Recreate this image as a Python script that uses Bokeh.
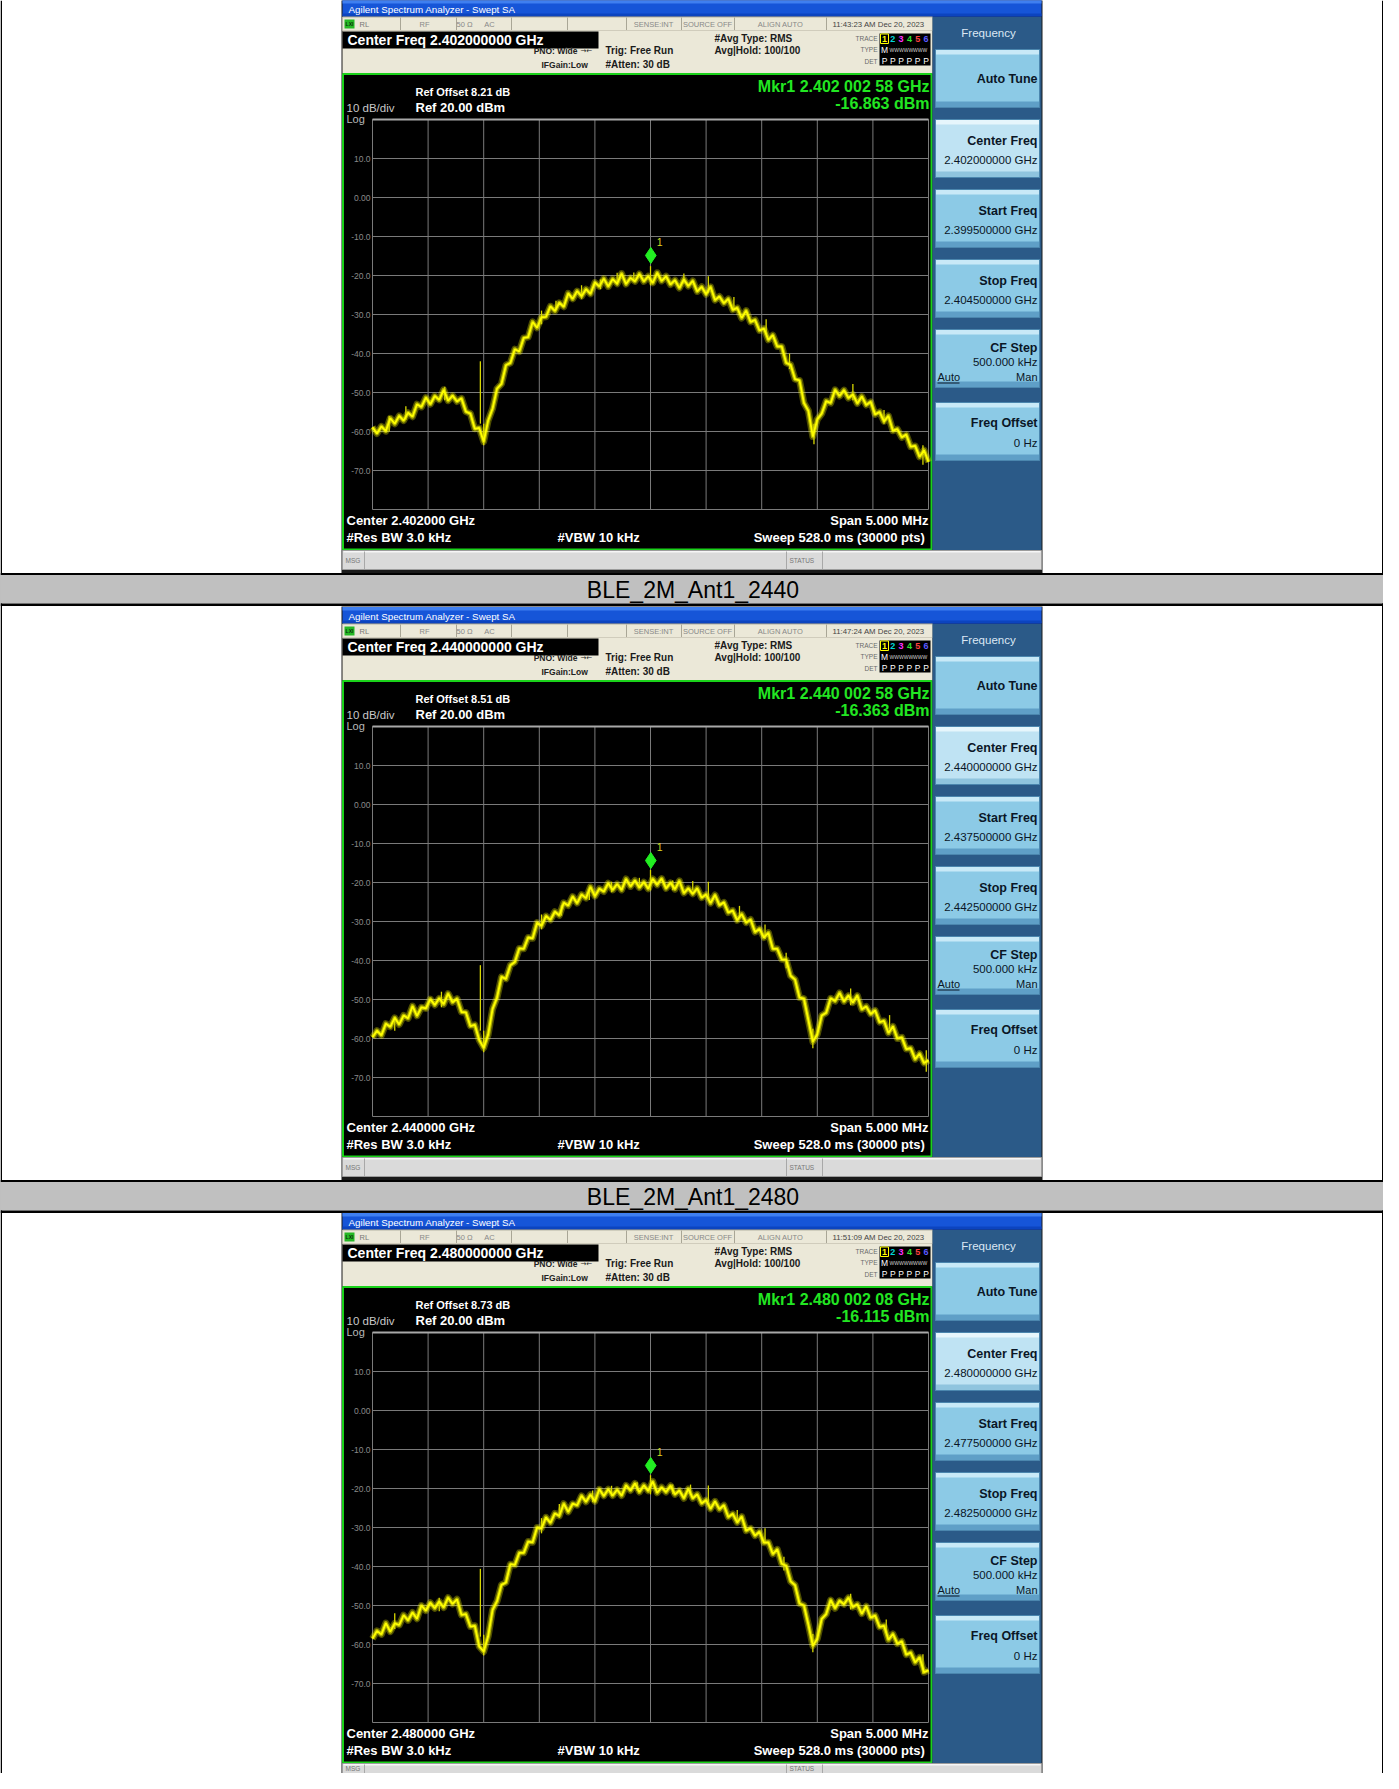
import numpy as np
from bokeh.plotting import figure
from bokeh.models import Range1d
from bokeh.core.properties import value
from bokeh.embed import file_html
from bokeh.resources import INLINE

# ---------------- data ----------------
center_freq_labels = ["2.402000000 GHz", "2.440000000 GHz", "2.480000000 GHz"]
start_freq_labels = ["2.399500000 GHz", "2.437500000 GHz", "2.477500000 GHz"]
stop_freq_labels = ["2.404500000 GHz", "2.442500000 GHz", "2.482500000 GHz"]
center_short_labels = ["2.402000 GHz", "2.440000 GHz", "2.480000 GHz"]
ref_offset_db = ["8.21", "8.51", "8.73"]
marker_freq_labels = ["2.402 002 58 GHz", "2.440 002 58 GHz", "2.480 002 08 GHz"]
marker_offset_mhz = [0.00258, 0.00258, 0.00208]
marker_dbm = [-16.863, -16.363, -16.115]
timestamps = ["11:43:23 AM Dec 20, 2023", "11:47:24 AM Dec 20, 2023", "11:51:09 AM Dec 20, 2023"]
row_headers = ["BLE_2M_Ant1_2440", "BLE_2M_Ant1_2480"]

span_mhz = 5.0
ref_level = 20.0
bottom_level = -80.0
freq_grid_mhz = [-2.5, -2.0, -1.5, -1.0, -0.5, 0.0, 0.5, 1.0, 1.5, 2.0, 2.5]
level_grid_db = [20, 10, 0, -10, -20, -30, -40, -50, -60, -70, -80]
y_tick_values = [10, 0, -10, -20, -30, -40, -50, -60, -70]
y_tick_labels = ["10.0", "0.00", "-10.0", "-20.0", "-30.0", "-40.0", "-50.0", "-60.0", "-70.0"]

trace_2402 = [
    -58.9, -60.5, -58.7, -59.9, -56.6, -58.0, -56.0, -57.2, -55.2, -56.2,
    -53.0, -53.7, -51.3, -53.0, -50.9, -51.9, -49.3, -52.1, -50.8, -52.3,
    -51.5, -54.9, -55.4, -59.3, -59.1, -62.6, -57.2, -54.1, -49.0, -47.8,
    -43.0, -42.4, -38.9, -39.5, -36.0, -35.8, -31.9, -33.4, -30.7, -30.6,
    -27.9, -29.1, -27.0, -28.0, -24.6, -26.0, -24.0, -25.3, -23.5, -24.7,
    -21.8, -22.8, -20.8, -22.8, -20.9, -22.1, -19.5, -22.2, -20.6, -21.5,
    -19.6, -21.5, -20.2, -21.9, -19.3, -21.4, -20.2, -22.3, -21.2, -23.2,
    -21.0, -22.7, -21.4, -24.1, -22.9, -24.8, -22.9, -26.3, -25.4, -27.1,
    -26.0, -28.8, -28.3, -30.9, -29.0, -31.9, -31.4, -34.1, -33.6, -36.5,
    -35.3, -38.2, -38.2, -42.4, -42.9, -46.6, -46.9, -52.7, -54.7, -61.3,
    -56.9, -55.4, -52.2, -52.7, -49.3, -50.9, -49.4, -51.4, -50.5, -52.8,
    -51.0, -53.2, -52.4, -55.6, -55.0, -57.4, -56.0, -59.8, -59.4, -61.5,
    -60.8, -63.9, -63.7, -66.5, -64.8, -67.8,
]
trace_2440 = [
    -59.7, -58.0, -59.2, -56.2, -57.0, -54.7, -56.4, -54.1, -54.8, -51.7,
    -54.2, -52.0, -52.3, -49.9, -51.4, -49.7, -51.2, -48.5, -50.7, -49.8,
    -53.2, -53.3, -56.8, -56.5, -60.4, -62.4, -59.0, -52.4, -49.5, -44.2,
    -44.7, -41.2, -40.4, -36.9, -37.0, -34.1, -34.3, -30.3, -31.1, -28.6,
    -29.6, -27.5, -28.4, -25.2, -25.9, -23.6, -25.3, -23.1, -24.0, -21.1,
    -23.5, -21.6, -22.3, -20.2, -21.9, -20.4, -21.9, -19.1, -21.0, -19.5,
    -21.3, -19.9, -21.6, -19.1, -20.6, -19.0, -21.5, -20.1, -21.7, -19.6,
    -22.7, -21.5, -22.9, -21.5, -23.9, -23.1, -25.3, -23.2, -25.8, -25.1,
    -27.7, -27.2, -29.7, -28.1, -30.3, -29.5, -32.7, -31.9, -34.1, -32.9,
    -37.0, -37.0, -39.7, -39.8, -43.9, -44.9, -49.5, -49.8, -55.3, -60.8,
    -58.9, -54.1, -53.4, -49.7, -50.4, -48.3, -50.5, -49.0, -50.8, -49.0,
    -52.5, -51.8, -53.7, -52.8, -55.8, -55.5, -58.6, -56.9, -60.0, -59.7,
    -62.7, -62.5, -65.3, -63.9, -66.3, -65.6,
]
trace_2480 = [
    -58.5, -56.5, -57.4, -54.5, -56.7, -54.6, -55.0, -52.5, -53.8, -51.8,
    -53.4, -50.0, -51.3, -49.3, -50.7, -49.0, -50.5, -48.0, -49.6, -48.4,
    -52.4, -52.2, -55.4, -55.2, -60.5, -61.8, -57.9, -51.1, -48.9, -44.7,
    -44.1, -39.4, -39.6, -36.5, -36.5, -33.6, -33.8, -30.0, -30.2, -27.4,
    -28.8, -26.4, -27.0, -23.9, -26.0, -23.9, -24.3, -21.9, -23.4, -21.6,
    -23.3, -20.2, -21.9, -20.2, -21.8, -20.3, -21.8, -19.2, -20.5, -18.7,
    -20.9, -19.2, -20.6, -18.2, -21.1, -19.7, -20.9, -19.3, -21.5, -20.5,
    -22.5, -20.1, -22.5, -21.5, -23.8, -23.0, -25.2, -23.3, -25.3, -24.3,
    -27.3, -26.5, -28.7, -27.2, -30.8, -30.2, -32.1, -31.1, -33.9, -33.8,
    -36.8, -35.6, -39.3, -39.8, -43.8, -44.8, -49.5, -50.0, -54.9, -60.3,
    -58.5, -53.4, -52.2, -48.6, -50.7, -48.8, -49.7, -48.0, -50.4, -49.7,
    -52.1, -50.2, -53.1, -52.6, -55.5, -55.2, -58.8, -57.3, -59.8, -59.2,
    -62.6, -62.1, -64.6, -63.3, -67.1, -66.6,
]

# narrow spikes in each trace: offset (MHz), top (dBm), foot (dBm)
spike_2402_mhz = [-1.53, 0.0, -0.98, -0.62, -0.30, 0.52, 1.04, 1.82, 1.47, -1.50, 2.45, -2.20, -1.85,
                  -0.85, -0.45, -0.15, 0.30, 0.75, 1.25, 2.10, -2.35]
spike_2402_top = [-42.0, -17.6, -29.0, -22.5, -19.3, -20.2, -31.2, -47.8, -58.0, -58.0, -63.5, -53.5, -48.5,
                  -26.5, -21.0, -19.2, -19.5, -25.5, -40.0, -54.5, -56.0]
spike_2402_bot = [-58.0, -22.5, -32.5, -26.0, -22.5, -24.5, -35.0, -52.0, -63.3, -63.5, -68.5, -57.0, -52.0,
                  -29.0, -23.5, -21.5, -22.0, -28.5, -44.0, -58.0, -60.0]
spike_2440_mhz = [-1.53, 0.0, -0.98, -0.35, 0.52, 1.03, 1.80, 1.46, -1.50, 2.48, -1.88, 0.20,
                  -0.80, -0.55, -0.10, 0.38, 0.80, 1.22, 2.15, -2.30]
spike_2440_top = [-41.2, -16.8, -28.2, -19.8, -19.8, -30.8, -47.2, -57.5, -58.0, -63.0, -48.0, -19.5,
                  -25.8, -21.5, -18.8, -19.6, -26.0, -38.0, -54.0, -54.5]
spike_2440_bot = [-58.0, -22.0, -32.0, -22.5, -24.0, -34.5, -51.5, -62.5, -63.5, -68.5, -52.0, -22.0,
                  -28.5, -24.5, -21.0, -22.0, -29.0, -42.0, -57.5, -58.0]
spike_2480_mhz = [-1.53, 0.0, -0.98, -0.35, 0.52, 1.03, 1.80, 1.46, -1.50, 2.45, -2.30, 0.20,
                  -0.82, -0.52, -0.12, 0.36, 0.78, 1.20, 2.12, -1.90]
spike_2480_top = [-40.6, -16.6, -27.6, -19.3, -19.2, -30.2, -47.0, -57.3, -57.5, -62.5, -52.0, -19.0,
                  -24.0, -20.5, -18.4, -19.0, -25.5, -37.5, -53.6, -48.0]
spike_2480_bot = [-58.0, -21.5, -31.5, -22.0, -23.5, -34.0, -51.0, -62.0, -62.8, -67.5, -56.0, -21.5,
                  -27.5, -23.5, -20.6, -21.5, -28.5, -41.0, -57.0, -51.5]

traces = [trace_2402, trace_2440, trace_2480]
spikes = [(spike_2402_mhz, spike_2402_top, spike_2402_bot),
          (spike_2440_mhz, spike_2440_top, spike_2440_bot),
          (spike_2480_mhz, spike_2480_top, spike_2480_bot)]

# ---------------- page canvas (pixel coordinates, y downwards) ----------------
W, H = 1383, 1773
FONT = "Liberation Sans"
p = figure(width=W, height=H, x_range=Range1d(8, 8 + W), y_range=Range1d(8 + H, 8),
           output_backend="svg", toolbar_location=None, min_border=0,
           x_axis_location=None, y_axis_location=None,
           background_fill_color="#ffffff", border_fill_color="#ffffff",
           outline_line_color=None)
p.xgrid.visible = False
p.ygrid.visible = False


def box(l, r, t, b, fill, line=None, lw=1.0):
    p.quad(left=[l], right=[r], top=[t], bottom=[b], fill_color=fill,
           line_color=line, line_width=lw)


def seg(x0, y0, x1, y1, color, lw=1.0):
    p.segment(x0=[x0], y0=[y0], x1=[x1], y1=[y1], line_color=color, line_width=lw)


def txt(x, y, s, size, color="#ffffff", bold=False, align="left", font=FONT):
    p.text(x=[x], y=[y], text=[s], text_font=value(font), text_font_size=f"{size}px",
           text_font_style="bold" if bold else "normal", text_color=color,
           text_align=align, text_baseline="middle")


GREEN_TXT = "#22e622"
GREEN_BORDER = "#1ad21a"
YELLOW = "#ffff00"
GRID = "#7a7a7a"
BEIGE = "#ebe8d8"
KEY_TXT = "#0a1626"

SHOT_TOPS = [7, 614, 1220]
PAGE_BOTTOM = 8 + H

# table frame (outer borders sit at the page edge)
box(8, 9.5, 8, PAGE_BOTTOM, "#000000")
box(1389.5, 1391, 8, PAGE_BOTTOM, "#000000")

for k, S in enumerate(SHOT_TOPS):
    # ---- screenshot frame
    box(349, 1050, S, S + 573.5, "#1a1a1a")
    # title bar
    box(350, 1049, S + 0.5, S + 17, "#1655d8")
    box(350, 1049, S + 0.5, S + 4, "#3f7ff0")
    box(350, 1049, S + 14, S + 17, "#0c44bf")
    txt(356, S + 9.5, "Agilent Spectrum Analyzer - Swept SA", 9.8, "#ffffff")

    # status row
    box(350, 940, S + 17.5, S + 31, BEIGE, line="#b4b1a1")
    for sx in [408, 464, 519, 575, 634, 689, 742, 834]:
        seg(sx, S + 18, sx, S + 30.5, "#a9a696")
    box(352, 362, S + 20, S + 29, "#25b825")
    txt(357, S + 24.5, "LXI", 5, "#0a300a", bold=True, align="center")
    txt(367, S + 24.5, "RL", 7.5, "#777777")
    txt(432, S + 24.5, "RF", 7.5, "#888888", align="center")
    txt(472, S + 24.5, "50 Ω", 7.5, "#888888", align="center")
    txt(497, S + 24.5, "AC", 7.5, "#888888", align="center")
    txt(661, S + 24.5, "SENSE:INT", 7.5, "#888888", align="center")
    txt(715, S + 24.5, "SOURCE OFF", 7.5, "#888888", align="center")
    txt(788, S + 24.5, "ALIGN AUTO", 7.5, "#888888", align="center")
    txt(886, S + 24.5, timestamps[k], 7.8, "#444444", align="center")

    # info area
    box(350, 940, S + 31, S + 74, BEIGE)
    box(350, 606, S + 32, S + 49, "#000000")
    txt(355, S + 40.5, "Center Freq " + center_freq_labels[k], 14, "#ffffff", bold=True)
    txt(585, S + 51, "PNO: Wide", 8.5, "#222222", bold=True, align="right")
    txt(588, S + 51, "→←", 7, "#222222", font="DejaVu Sans")
    txt(549, S + 65, "IFGain:Low", 8.5, "#222222", bold=True)
    txt(613, S + 51, "Trig: Free Run", 10, "#1a1a1a", bold=True)
    txt(613, S + 65, "#Atten: 30 dB", 10, "#1a1a1a", bold=True)
    txt(722, S + 39, "#Avg Type: RMS", 10, "#1a1a1a", bold=True)
    txt(722, S + 51, "Avg|Hold: 100/100", 10, "#1a1a1a", bold=True)
    txt(885, S + 38.5, "TRACE", 6.5, "#6a6a6a", align="right")
    txt(885, S + 50, "TYPE", 6.5, "#6a6a6a", align="right")
    txt(885, S + 61.5, "DET", 6.5, "#6a6a6a", align="right")
    box(887, 938, S + 34, S + 66, "#000000")
    box(888, 896, S + 34.5, S + 44, None, line=YELLOW, lw=1)
    tcol = ["#ffff00", "#00d8d8", "#ff30ff", "#30e030", "#ff4040", "#5a5aff"]
    for j in range(6):
        txt(892 + 8.3 * j, S + 39.5, str(j + 1), 9, tcol[j], bold=True, align="center")
        txt(892 + 8.3 * j, S + 61.5, "P", 8.5, "#ffffff", align="center")
    txt(892, S + 50, "M", 8.5, "#ffffff", align="center")
    txt(897, S + 50, "WWWWWWWW", 5, "#d0d0d0")

    # ---- graph area
    box(350.5, 939, S + 74.5, S + 550, "#000000", line=GREEN_BORDER, lw=2)
    txt(937, S + 87, "Mkr1 " + marker_freq_labels[k], 16, GREEN_TXT, bold=True, align="right")
    txt(937, S + 104, f"{marker_dbm[k]:.3f} dBm", 16, GREEN_TXT, bold=True, align="right")
    txt(423, S + 92.5, f"Ref Offset {ref_offset_db[k]} dB", 11, "#ffffff", bold=True)
    txt(354, S + 108, "10 dB/div", 11.5, "#c8c8c8")
    txt(423, S + 108, f"Ref {ref_level:.2f} dBm", 13, "#ffffff", bold=True)
    txt(354, S + 119, "Log", 11, "#b8b8b8")
    txt(354, S + 521, "Center " + center_short_labels[k], 13, "#ffffff", bold=True)
    txt(936, S + 521, f"Span {span_mhz:.3f} MHz", 13, "#ffffff", bold=True, align="right")
    txt(354, S + 538, "#Res BW 3.0 kHz", 13, "#ffffff", bold=True)
    txt(565, S + 538, "#VBW 10 kHz", 13, "#ffffff", bold=True)
    txt(936, S + 538, "Sweep  528.0 ms (30000 pts)", 13, "#ffffff", bold=True, align="right")

    sub = p.subplot(x_source=Range1d(-span_mhz / 2, span_mhz / 2),
                    y_source=Range1d(bottom_level, ref_level),
                    x_target=Range1d(380, 936), y_target=Range1d(S + 510, S + 120))
    sub.segment(x0=freq_grid_mhz, y0=bottom_level, x1=freq_grid_mhz, y1=ref_level,
                line_color=GRID, line_width=1)
    sub.segment(x0=-span_mhz / 2, y0=level_grid_db, x1=span_mhz / 2, y1=level_grid_db,
                line_color=GRID, line_width=1)
    sub.segment(x0=[-span_mhz / 2], y0=[ref_level], x1=[span_mhz / 2], y1=[ref_level],
                line_color="#a8a8a8", line_width=2)
    sub.text(x=[-span_mhz / 2] * len(y_tick_values), y=y_tick_values, text=y_tick_labels,
             x_offset=-2, text_align="right", text_baseline="middle",
             text_font=value(FONT), text_font_size="8.5px", text_color="#8a8a8a")

    tr = traces[k]
    f_mhz = np.linspace(-span_mhz / 2, span_mhz / 2, len(tr))
    sm, st, sb = spikes[k]
    sub.line(x=f_mhz, y=tr, line_color=YELLOW, line_width=7, line_alpha=0.30, line_join="round")
    sub.line(x=f_mhz, y=tr, line_color=YELLOW, line_width=4, line_alpha=0.55, line_join="round")
    sub.segment(x0=sm, y0=sb, x1=sm, y1=st, line_color="#d8d800", line_width=1.3)
    sub.line(x=f_mhz, y=tr, line_color=YELLOW, line_width=1.8)

    sub.scatter(x=[marker_offset_mhz[k]], y=[marker_dbm[k] + 2.0], marker="diamond",
                size=16, fill_color="#22ee22", line_color="#22ee22")
    sub.text(x=[marker_offset_mhz[k]], y=[marker_dbm[k]], text=["1"], x_offset=6, y_offset=-21,
             text_baseline="middle", text_font=value(FONT), text_font_size="10.5px",
             text_color="#d8d820")

    # ---- softkey panel
    box(940, 1049, S + 17.5, S + 550.5, "#2b5a88")
    txt(996, S + 33, "Frequency", 11.5, "#dce8f4", align="center")
    tops = [50, 120, 190, 260, 330, 403]
    for j, t in enumerate(tops):
        sel = (j == 1)
        box(943, 1047, S + t, S + t + 58, "#bfe3f3" if sel else "#8ccae6", line="#4b86ae")
        box(943.5, 1046.5, S + t + 0.5, S + t + 5, "#e6f6fc" if sel else "#c8e9f7")
        box(943.5, 1046.5, S + t + 52, S + t + 57.5, "#8fc4de" if sel else "#5f9fc7")
    txt(1045, S + 50 + 29, "Auto Tune", 12.5, KEY_TXT, bold=True, align="right")
    txt(1045, S + 120 + 21, "Center Freq", 12.5, KEY_TXT, bold=True, align="right")
    txt(1045, S + 120 + 40, center_freq_labels[k], 11.5, KEY_TXT, align="right")
    txt(1045, S + 190 + 21, "Start Freq", 12.5, KEY_TXT, bold=True, align="right")
    txt(1045, S + 190 + 40, start_freq_labels[k], 11.5, KEY_TXT, align="right")
    txt(1045, S + 260 + 21, "Stop Freq", 12.5, KEY_TXT, bold=True, align="right")
    txt(1045, S + 260 + 40, stop_freq_labels[k], 11.5, KEY_TXT, align="right")
    txt(1045, S + 330 + 18, "CF Step", 12.5, KEY_TXT, bold=True, align="right")
    txt(1045, S + 330 + 32, "500.000 kHz", 11.5, KEY_TXT, align="right")
    txt(945, S + 330 + 47, "Auto", 11, KEY_TXT)
    seg(945, S + 330 + 53.5, 967, S + 330 + 53.5, KEY_TXT, 1)
    txt(1045, S + 330 + 47, "Man", 11, KEY_TXT, align="right")
    txt(1045, S + 403 + 20, "Freq Offset", 12.5, KEY_TXT, bold=True, align="right")
    txt(1045, S + 403 + 40, "0 Hz", 11.5, KEY_TXT, align="right")

    # ---- message bar
    box(350, 1049, S + 551, S + 570, "#dadada", line="#9c9c9c")
    box(351, 1048, S + 551.5, S + 553, "#f6f6f6")
    for sx in [372, 794, 830]:
        seg(sx, S + 552, sx, S + 569.5, "#a8a8a8")
    y_msg = min(S + 561, PAGE_BOTTOM - 5)
    txt(353, y_msg, "MSG", 6.5, "#777777")
    txt(797, y_msg, "STATUS", 6.5, "#777777")

    # ---- table separator row with the next test name
    if k < len(row_headers):
        box(8, 1391, S + 573.5, S + 575.5, "#000000")
        box(8, 1391, S + 575.5, S + 604, "#c0c0c0")
        box(8, 1391, S + 604, S + 606.5, "#000000")
        txt(700.5, S + 590, row_headers[k], 23, "#000000", align="center")

open("out.html", "w").write(file_html(p, INLINE))
